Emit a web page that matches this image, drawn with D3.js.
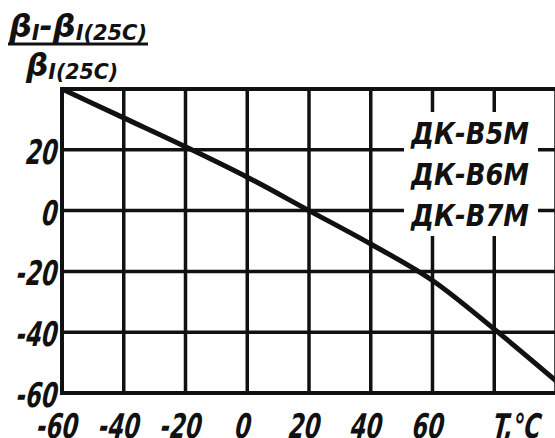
<!DOCTYPE html>
<html>
<head>
<meta charset="utf-8">
<script src="https://cdn.jsdelivr.net/npm/d3@7"></script>
<style>
  body { margin: 0; background: #fff; }
  text { font-family: "DejaVu Sans Condensed", "DejaVu Sans", sans-serif; font-style: italic; font-weight: bold; fill: #111; }
</style>
</head>
<body>
<div id="chart"></div>
<script>
// Data
const temps = [-60, -40, -20, 0, 20, 40, 60, 80, 100];
const ratio = [40, 30.5, 21, 11, 0, -11, -23, -39, -56];

// Axis ticks
const xTicks = [-60, -40, -20, 0, 20, 40, 60, 80, 100];
const xLabels = ["-60", "-40", "-20", "0", "20", "40", "60"];
const yTicks = [-60, -40, -20, 0, 20, 40];
const yLabels = ["-60", "-40", "-20", "0", "20"];
const models = ["ДК-В5М", "ДК-В6М", "ДК-В7М"];

const width = 555, height = 438;
const narrow = 0.74; // squeeze glyphs like the drafting font

const svg = d3.select("#chart")
  .append("svg")
  .attr("width", width)
  .attr("height", height);

const x = d3.scaleLinear().domain([-60, 100]).range([62, 556]);
const y = d3.scaleLinear().domain([-60, 40]).range([393, 89]);

// Grid
svg.append("g")
  .selectAll("line")
  .data(xTicks.slice(1))
  .join("line")
  .attr("x1", d => x(d)).attr("x2", d => x(d))
  .attr("y1", y(40)).attr("y2", y(-60))
  .attr("stroke", "#111").attr("stroke-width", 3.5);

svg.append("g")
  .selectAll("line")
  .data(yTicks.slice(1, -1))
  .join("line")
  .attr("x1", x(-60)).attr("x2", width)
  .attr("y1", d => y(d)).attr("y2", d => y(d))
  .attr("stroke", "#111").attr("stroke-width", 3.5);

// Blank area behind the model labels
svg.append("rect")
  .attr("x", 404).attr("y", 112)
  .attr("width", 134).attr("height", 124)
  .attr("fill", "#fff");

// Frame: left, top, bottom
svg.append("path")
  .attr("d", `M${width},${y(40)}H${x(-60)}V${y(-60)}H${width}`)
  .attr("fill", "none")
  .attr("stroke", "#111")
  .attr("stroke-width", 4);

// Curve
const line = d3.line()
  .x((d, i) => x(temps[i]))
  .y(d => y(d))
  .curve(d3.curveMonotoneX);

svg.append("path")
  .datum(ratio)
  .attr("d", line)
  .attr("fill", "none")
  .attr("stroke", "#111")
  .attr("stroke-width", 5);

// Model labels
svg.append("g")
  .selectAll("text")
  .data(models)
  .join("text")
  .attr("x", 411)
  .attr("y", (d, i) => 144 + i * 41)
  .attr("font-size", 31)
  .attr("textLength", 118)
  .attr("lengthAdjust", "spacingAndGlyphs")
  .text(d => d);

// Y tick labels
svg.append("g")
  .selectAll("text")
  .data(yLabels)
  .join("text")
  .attr("transform", d => `translate(57,${y(+d) + 14}) skewX(-6) scale(${narrow},1)`)
  .attr("text-anchor", "end")
  .attr("font-size", 34)
  .text(d => d);

// X tick labels
svg.append("g")
  .selectAll("text")
  .data(xLabels)
  .join("text")
  .attr("transform", d => `translate(${x(+d) - 5},438) skewX(-6) scale(${narrow},1)`)
  .attr("text-anchor", "middle")
  .attr("font-size", 34)
  .text(d => d);

svg.append("text")
  .attr("transform", `translate(${x(80) - 2},438) skewX(-6) scale(${narrow},1)`)
  .attr("font-size", 34)
  .text("T,°C");

// Y axis title as a fraction
const title = svg.append("g");
const num = title.append("text")
  .attr("x", 9).attr("y", 37)
  .attr("font-size", 32)
  .attr("textLength", 138)
  .attr("lengthAdjust", "spacingAndGlyphs");
num.append("tspan").text("β");
num.append("tspan").attr("font-size", 21).attr("dy", 3).text("I");
num.append("tspan").attr("dy", -3).text("-β");
num.append("tspan").attr("font-size", 21).attr("dy", 3).text("I(25C)");

title.append("line")
  .attr("x1", 8).attr("x2", 148)
  .attr("y1", 44).attr("y2", 44)
  .attr("stroke", "#111").attr("stroke-width", 3);

const den = title.append("text")
  .attr("x", 26).attr("y", 76)
  .attr("font-size", 32)
  .attr("textLength", 92)
  .attr("lengthAdjust", "spacingAndGlyphs");
den.append("tspan").text("β");
den.append("tspan").attr("font-size", 21).attr("dy", 3).text("I(25C)");
</script>
</body>
</html>
